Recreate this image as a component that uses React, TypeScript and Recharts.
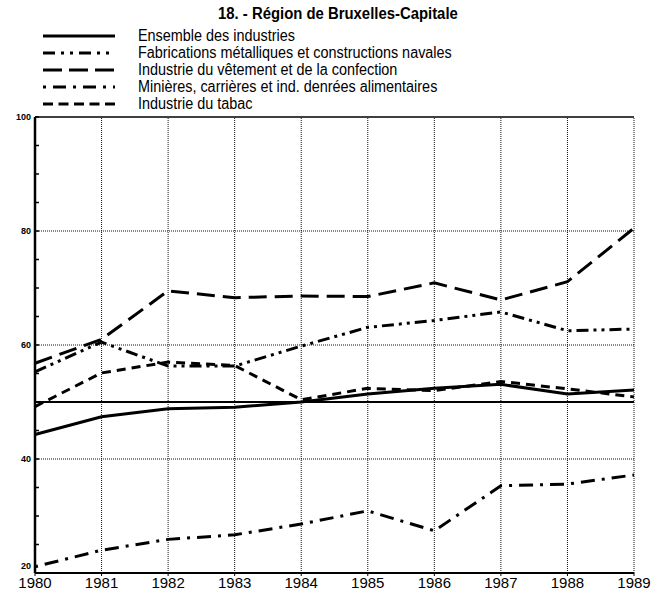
import { Legend, Line, LineChart, ReferenceLine, XAxis, YAxis } from "recharts"

const years = [1980, 1981, 1982, 1983, 1984, 1985, 1986, 1987, 1988, 1989]
const ensembleDesIndustries = [44.3, 47.4, 48.8, 49.1, 50.0, 51.4, 52.4, 53.1, 51.4, 52.1]
const fabricationsMetalliques = [55.3, 60.5, 56.3, 56.3, 59.8, 63.1, 64.3, 65.8, 62.5, 62.8]
const industrieVetement = [56.8, 61.0, 69.5, 68.3, 68.6, 68.5, 70.9, 67.9, 71.1, 80.5]
const minieresCarrieres = [21.1, 24.0, 25.9, 26.7, 28.6, 30.9, 27.4, 35.3, 35.6, 37.2]
const industrieTabac = [49.2, 55.1, 57.0, 56.4, 50.4, 52.4, 52.0, 53.6, 52.3, 50.9]

const yTicks = [20, 25, 30, 35, 40, 45, 50, 55, 60, 65, 70, 75, 80, 85, 90, 95, 100]
const yLabels = [20, 40, 60, 80, 100]
const dottedRows = [40, 60, 80]

const series = [
  { key: "ensemble", name: "Ensemble des industries", dash: undefined, legendDash: undefined },
  { key: "fabrications", name: "Fabrications métalliques et constructions navales", dash: "12 5 3 5 3 5", legendDash: "12 6 3 6 3 6" },
  { key: "vetement", name: "Industrie du vêtement et de la confection", dash: "18 8", legendDash: "19 7" },
  { key: "minieres", name: "Minières, carrières et ind. denrées alimentaires", dash: "3 7 14 7", legendDash: "3 7 13 7" },
  { key: "tabac", name: "Industrie du tabac", dash: "9 6", legendDash: "10 5.5" },
]

const data = years.map((year, i) => ({
  year,
  ensemble: ensembleDesIndustries[i],
  fabrications: fabricationsMetalliques[i],
  vetement: industrieVetement[i],
  minieres: minieresCarrieres[i],
  tabac: industrieTabac[i],
}))

const sans = "'Liberation Sans', Arial, sans-serif"

function LegendBox() {
  return (
    <div style={{ fontFamily: sans, fontSize: 16, color: "#000" }}>
      {series.map((s) => (
        <div key={s.key} style={{ display: "flex", alignItems: "center", height: 16.8 }}>
          <svg width={95} height={10} style={{ flex: "none" }}>
            <line x1={0} x2={72} y1={5} y2={5} stroke="#000" strokeWidth={3} strokeDasharray={s.legendDash} />
          </svg>
          <span style={{ display: "inline-block", whiteSpace: "nowrap", transform: "scaleX(0.9)", transformOrigin: "left center" }}>
            {s.name}
          </span>
        </div>
      ))}
    </div>
  )
}

function YTick(props: any) {
  const { x, y, payload } = props
  const v = payload.value
  return (
    <g>
      <line x1={x} x2={x + 4} y1={y} y2={y} stroke="#000" strokeWidth={1.5} />
      {yLabels.includes(v) && (
        <text x={x - 4} y={v === 20 ? y - 4 : y + 3} textAnchor="end" fontSize={9} fontWeight="bold" fontFamily={sans}>
          {v}
        </text>
      )}
    </g>
  )
}

export default function App() {
  return (
    <div style={{ position: "absolute", top: 0, left: 0, width: 667, height: 592, background: "#fff" }}>
      <div
        style={{
          position: "absolute",
          top: 5,
          left: 218,
          whiteSpace: "nowrap",
          fontFamily: sans,
          fontWeight: "bold",
          fontSize: 16,
          lineHeight: "18px",
          transform: "scaleX(0.93)",
          transformOrigin: "left center",
        }}
      >
        18. - Région de Bruxelles-Capitale
      </div>
      <LineChart width={667} height={592} data={data} margin={{ top: 117, right: 33, bottom: 0, left: 0 }}>
        <XAxis
          dataKey="year"
          type="number"
          domain={[1980, 1989]}
          ticks={years}
          interval={0}
          axisLine={{ stroke: "#000", strokeWidth: 2 }}
          tickLine={{ stroke: "#000", strokeWidth: 1 }}
          tickSize={3}
          tickMargin={0}
          height={19}
          tick={{ fill: "#000", fontSize: 15, fontFamily: sans, dy: 1 }}
        />
        <YAxis
          type="number"
          domain={[20, 100]}
          ticks={yTicks}
          interval={0}
          width={35}
          axisLine={{ stroke: "#000", strokeWidth: 2.5 }}
          tickLine={false}
          tickSize={0}
          tickMargin={0}
          tick={<YTick />}
        />
        {years.slice(1).map((yr) => (
          <ReferenceLine key={yr} x={yr} stroke="#111" strokeWidth={1} strokeDasharray="1 1" />
        ))}
        {dottedRows.map((v) => (
          <ReferenceLine key={v} y={v} stroke="#111" strokeWidth={1} strokeDasharray="1 1" />
        ))}
        <ReferenceLine y={100} stroke="#000" strokeWidth={1.5} />
        <ReferenceLine y={50} stroke="#000" strokeWidth={2} />
        <Legend
          layout="vertical"
          align="center"
          verticalAlign="middle"
          wrapperStyle={{ top: 28, left: 43, width: 600 }}
          content={() => <LegendBox />}
        />
        {series.map((s) => (
          <Line
            key={s.key}
            dataKey={s.key}
            name={s.name}
            type="linear"
            stroke="#000"
            strokeWidth={3}
            strokeDasharray={s.dash}
            dot={false}
            isAnimationActive={false}
          />
        ))}
      </LineChart>
    </div>
  )
}
